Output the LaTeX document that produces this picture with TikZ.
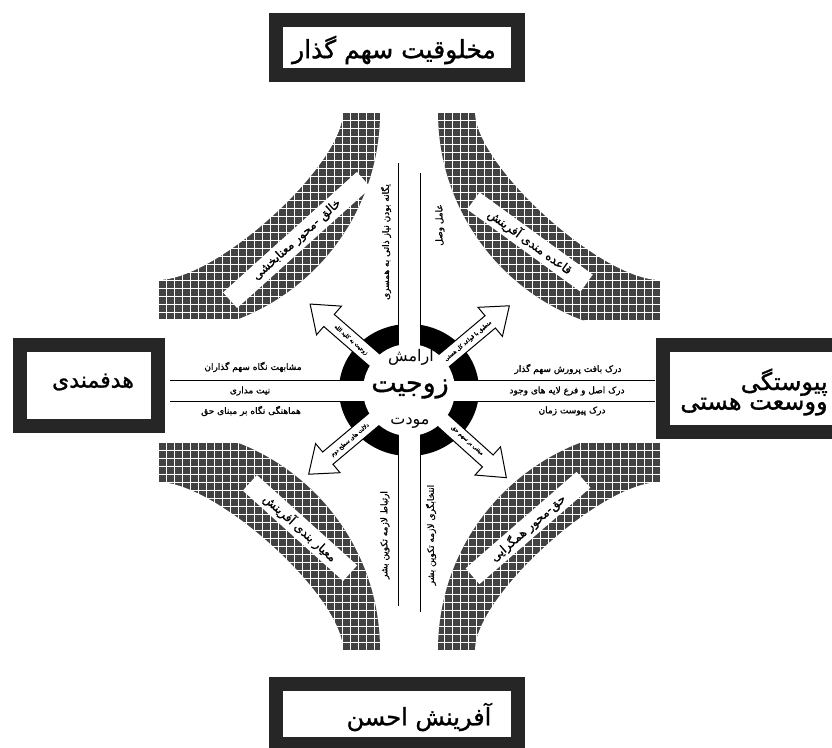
\documentclass[tikz,border=0pt]{standalone}
\usepackage{fontspec}
\newfontfamily\fab[Script=Arabic,FakeBold=1.2]{DejaVu Sans}
\newfontfamily\far[Script=Arabic]{DejaVu Sans}
\TeXXeTstate=1
\newcommand\fat[2]{{\fab\fontsize{#1}{#1}\selectfont\beginR #2\endR}}
\newcommand\fatr[2]{{\far\fontsize{#1}{#1}\selectfont\beginR #2\endR}}
\tikzset{
  boxframe/.style={draw=black!85, line width=14pt, fill=white},
  lab/.style={inner sep=1pt},
  hornlab/.style={fill=white, inner sep=2pt, minimum height=21pt},
  hornfill/.style={fill=black!74},
  hgrid/.style={draw=white, line width=0.7pt},
  blockarrow/.style={draw=black, line width=1pt, fill=white, line join=miter},
  band/.style={draw=black, line width=1pt},
}
% #1 cx, #2 cy, #3 sx, #4 sy, #5 width, #6 height
\newcommand\hornshape[6]{%
  \begin{scope}
    \clip (#1,#2) rectangle ++(#3*#5,#4*#6);
    \clip (#1,#2) circle[radius=222];
    \fill[hornfill] (#1,#2) rectangle ++(#3*240,#4*240);
    \foreach \k in {0,...,30} {
      \draw[hgrid] (#1+#3*\k*8,#2) -- ++(0,#4*240);
      \draw[hgrid] (#1,#2+#4*\k*8) -- ++(#3*240,0);
    }
    \fill[white] (#1,#2) -- (#1+#3*185,#2)
      .. controls (#1+#3*185,#2+#4*53) and (#1+#3*59,#2+#4*168) ..
      (#1,#2+#4*168) -- cycle;
  \end{scope}}
\newcommand\barrowat[1]{%
  \begin{scope}[shift={(409,390)},rotate=#1]
    \draw[blockarrow] (44,-8) -- (106,-8) -- (106,-19) -- (131,0)
      -- (106,19) -- (106,8) -- (44,8) -- cycle;
  \end{scope}}
\begin{document}
\begin{tikzpicture}[x=1pt,y=-1pt]
\useasboundingbox (0,0) rectangle (832,747);
\clip (0,0) rectangle (832,747);

% curved hatched bands
\hornshape{158}{112}{1}{1}{227}{206}
\hornshape{660}{112}{-1}{1}{225}{208}
\hornshape{158}{650}{1}{-1}{225}{207}
\hornshape{660}{650}{-1}{-1}{225}{207}

% labels on the bands
\node[hornlab, rotate=42, minimum width=180pt] (tl) at (297,240) {\fat{12}{خالق -محور معنابخشی}};
\node[hornlab, rotate=-36, minimum width=140pt] (tr) at (530,242) {\fat{12}{قاعده مندی آفرینش}};
\node[hornlab, rotate=-42, minimum width=135pt] (bl) at (300,528) {\fat{12}{معیار بندی آفرینش}};
\node[hornlab, rotate=41, minimum width=147pt] (br) at (528,528) {\fat{12}{حق-محور همگرایی}};

% outer frames
\node[boxframe, minimum width=242pt, minimum height=55pt] (topbox) at (396.5,47.5) {};
\node[boxframe, minimum width=138pt, minimum height=81pt] (leftbox) at (88.5,385) {};
\node[boxframe, minimum width=176pt, minimum height=87pt] (rightbox) at (751,388) {};
\node[boxframe, minimum width=242pt, minimum height=60pt] (bottombox) at (396.5,714) {};

\node[lab] (toptext) at (394,50) {\fat{25}{مخلوقیت سهم گذار}};
\node[lab] (lefttext) at (93,382) {\fat{22}{هدفمندی}};
\node[lab, align=right] (righttext) at (754,392) {\fat{24}{پیوستگی}\\[1pt]\fat{24}{ووسعت هستی}};
\node[lab] (bottomtext) at (419,717) {\fat{24}{آفرینش احسن}};

% central disk and bands
\fill[black] (409,390) ellipse[x radius=70, y radius=66];
\fill[white] (398,315) rectangle (420,465);
\fill[white] (330,380) rectangle (490,401);
\draw[band] (170,380) -- (655,380);
\draw[band] (170,401) -- (655,401);
\draw[band] (398,163) -- (398,606);
\draw[band] (420,173) -- (420,612);

% block arrows
\barrowat{139}
\barrowat{40}
\barrowat{220}
\barrowat{318}

\fill[white] (409,390) circle[radius=46];

% arrow labels
\node[lab, rotate=-41] (a1) at (351,340) {\fat{5.5}{زوجیت به کلید الله}};
\node[lab, rotate=40] (a2) at (468,341) {\fat{5.5}{منطبق با قواعد کل هستی}};
\node[lab, rotate=40] (a3) at (350,440) {\fat{5.5}{دلالت های سطح دوم}};
\node[lab, rotate=-42] (a4) at (467,441) {\fat{5.5}{مبتنی بر سهم حق}};

% centre words
\node[lab] (c1) at (411,356) {\fatr{16}{آرامش}};
\node[lab] (c2) at (410,389) {\fat{27}{زوجیت}};
\node[lab] (c3) at (410,423) {\fatr{16}{مودت}};

% texts along the cross
\node[lab] (l1) at (253,367) {\fat{9}{مشابهت نگاه سهم گذاران}};
\node[lab] (l2) at (250,391) {\fat{9}{نیت مداری}};
\node[lab] (l3) at (251,411) {\fat{9}{هماهنگی نگاه بر مبنای حق}};
\node[lab] (r1) at (568,369) {\fat{9}{درک بافت پرورش سهم گذار}};
\node[lab] (r2) at (567,391) {\fat{9}{درک اصل و فرع لایه های وجود}};
\node[lab] (r3) at (572,411) {\fat{9}{درک پیوست زمان}};

\node[lab, rotate=90] (v1) at (386,242) {\fat{9}{یگانه بودن نیاز ذاتی به همسری}};
\node[lab, rotate=90] (v2) at (440,225) {\fat{9}{عامل وصل}};
\node[lab, rotate=90] (v3) at (385,535) {\fat{9}{ارتباط لازمه تکوین بشر}};
\node[lab, rotate=90] (v4) at (431,535) {\fat{9}{انتخابگری لازمه تکوین بشر}};
\end{tikzpicture}
\end{document}
